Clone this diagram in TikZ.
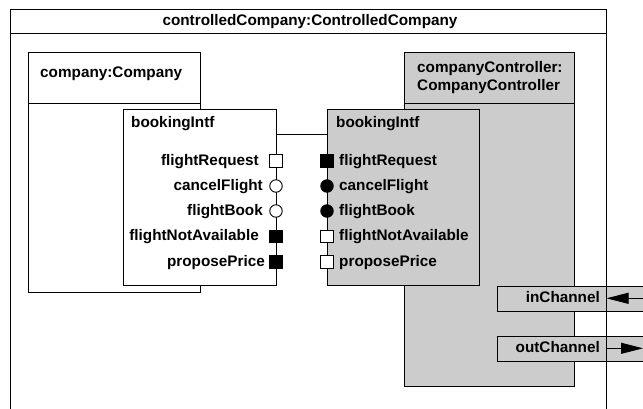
\documentclass[tikz,border=0pt]{standalone}
\usepackage{fontspec}
\setmainfont{Liberation Sans}
\usetikzlibrary{arrows.meta}

\colorlet{ctrlgray}{black!20}
\tikzset{
	txt/.style={font=\fontsize{15.3}{18}\selectfont\bfseries, inner sep=0pt},
	lbl/.style={txt, text height=11pt, text depth=3pt},
	part/.style={draw, line width=0.9pt, anchor=north west, inner sep=0pt},
	portsq/.style={draw, line width=0.9pt, minimum size=12.5pt, inner sep=0pt},
	portci/.style={draw, circle, line width=0.9pt, minimum size=12.5pt, inner sep=0pt},
	chan/.style={-{Triangle[length=22pt,width=11pt]}, line width=0.9pt},
}

\begin{document}
\begin{tikzpicture}[x=1pt,y=-1pt]
			%%%%% START %%%%%
			\def\xl{276}
			\def\xr{327}
			\def\ya{161}
			\def\yb{186}
			\def\yc{211}
			\def\yd{236.5}
			\def\ye{262}
			\def\yin{298.3}
			\def\yout{348.3}
			
			\useasboundingbox (0,0) rectangle (643,408);
			\clip (0,0) rectangle (643,408);
			
			\node[part, fill=white, minimum width=172pt, minimum height=240pt] (company) at (28,52) {};
			\draw[line width=0.9pt] ([yshift=-51pt]company.north west) -- ([yshift=-51pt]company.north east);
			\node[lbl, anchor=west] (companyName) at (40,73) {company:Company};
			
			\node[part, fill=ctrlgray, minimum width=170pt, minimum height=334pt] (ctrl) at (404,52) {};
			\draw[line width=0.9pt] ([yshift=-51pt]ctrl.north west) -- ([yshift=-51pt]ctrl.north east);
			\node[txt, anchor=west, align=left] (ctrlName) at (417,78) {companyController:\\CompanyController};
			
			\node[part, fill=white, minimum width=153pt, minimum height=176pt] (lIntf) at (123,109) {};
			\node[lbl, anchor=west] (lIntfName) at (131,123) {bookingIntf};
			
			\node[part, fill=ctrlgray, minimum width=152pt, minimum height=176pt] (rIntf) at (327,109) {};
			\node[lbl, anchor=west] (rIntfName) at (336,123) {bookingIntf};
			
			\draw[line width=0.9pt] ([yshift=-25pt]lIntf.north east) -- ([yshift=-25pt]rIntf.north west);
			
			\node[portsq, fill=white] (lReq) at (\xl,\ya) {};
			\node[portci, fill=white] (lCancel) at (\xl,\yb) {};
			\node[portci, fill=white] (lBook) at (\xl,\yc) {};
			\node[portsq, fill=black] (lNotAv) at (\xl,\yd) {};
			\node[portsq, fill=black] (lPrice) at (\xl,\ye) {};
			\node[lbl, anchor=east] (lReqLbl) at (259,\ya) {flightRequest};
			\node[lbl, anchor=east] (lCancelLbl) at (263,\yb) {cancelFlight};
			\node[lbl, anchor=east] (lBookLbl) at (263,\yc) {flightBook};
			\node[lbl, anchor=east] (lNotAvLbl) at (259,\yd) {flightNotAvailable};
			\node[lbl, anchor=east] (lPriceLbl) at (265,\ye) {proposePrice};
			
			\node[portsq, fill=black] (rReq) at (\xr,\ya) {};
			\node[portci, fill=black] (rCancel) at (\xr,\yb) {};
			\node[portci, fill=black] (rBook) at (\xr,\yc) {};
			\node[portsq, fill=white] (rNotAv) at (\xr,\yd) {};
			\node[portsq, fill=white] (rPrice) at (\xr,\ye) {};
			\node[lbl, anchor=west] (rReqLbl) at (339,\ya) {flightRequest};
			\node[lbl, anchor=west] (rCancelLbl) at (339,\yb) {cancelFlight};
			\node[lbl, anchor=west] (rBookLbl) at (339,\yc) {flightBook};
			\node[lbl, anchor=west] (rNotAvLbl) at (339,\yd) {flightNotAvailable};
			\node[lbl, anchor=west] (rPriceLbl) at (339,\ye) {proposePrice};
			
			\node[part, fill=ctrlgray, minimum width=170pt, minimum height=24.7pt] (inBox) at (497,286) {};
			\node[lbl, anchor=east] (inName) at (600,\yin) {inChannel};
			\node[part, fill=ctrlgray, minimum width=170pt, minimum height=24.7pt] (outBox) at (497,336) {};
			\node[lbl, anchor=east] (outName) at (600,\yout) {outChannel};
			
			\node[part, minimum width=596.5pt, minimum height=440pt] (outer) at (9.5,9) {};
			\draw[line width=0.9pt] ([yshift=-24pt]outer.north west) -- ([yshift=-24pt]outer.north east);
			\node[lbl] (outerName) at (310,21) {controlledCompany:ControlledCompany};
			
			\coordinate (inEnd) at (650,\yin);
			\coordinate (inTip) at (606.5,\yin);
			\coordinate (outStart) at (606.5,\yout);
			\coordinate (outTip) at (643,\yout);
			\draw[chan] (inEnd) -- (inTip);
			\draw[chan] (outStart) -- (outTip);
			%%%%% END %%%%%
\end{tikzpicture}
\end{document}
